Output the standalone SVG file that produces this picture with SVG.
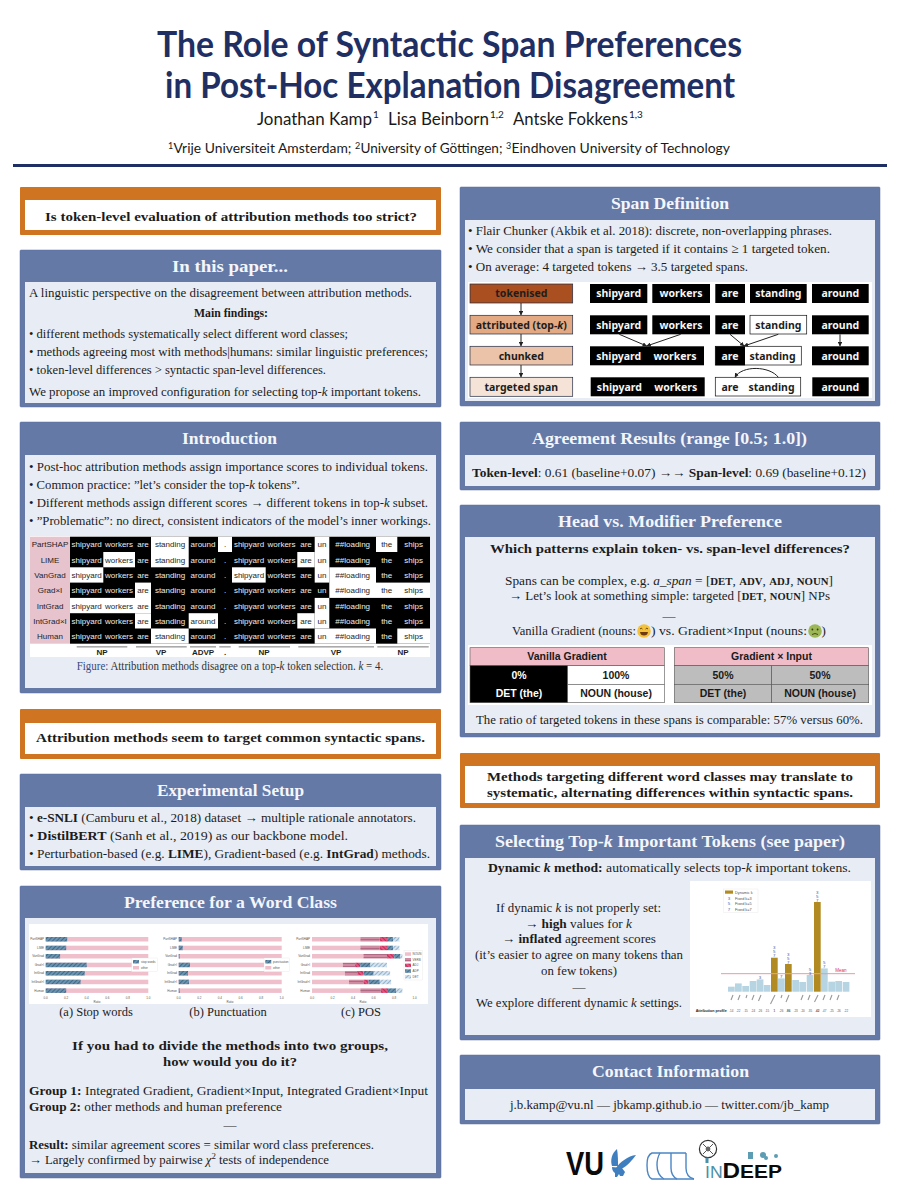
<svg xmlns="http://www.w3.org/2000/svg" width="900" height="1200" viewBox="0 0 900 1200">
<style>
text{font-family:"Liberation Serif","Times New Roman",serif;fill:#1c1c1c}
.h{font-family:Lato,"Liberation Sans",sans-serif;fill:#1f2f63}
.a{font-family:Lato,"Liberation Sans",sans-serif;fill:#1a1a1a}
.p{fill:#6479a6;stroke:#5b6f9c;stroke-width:.5}
.o{fill:#cf7522}
.i{fill:#e8ecf4}
.w{fill:#fff}
.t{font-size:17px;font-weight:700;fill:#f4f6fb}
.b{font-size:13px}
.bb{font-weight:700}
.s,.s text{font-family:"Liberation Sans",Arial,sans-serif}
.l{font-family:"Liberation Sans",Arial,sans-serif;font-size:8px;text-anchor:middle;fill:#1e1e1e}
.l.tw{fill:#ececec}
.c,.c text{font-family:"Liberation Sans",Arial,sans-serif;font-size:3px;fill:#555}
.e{text-anchor:end}
.m{text-anchor:middle}
.n{font-family:"Noto Sans","Liberation Sans",sans-serif;font-weight:700;font-size:10.5px;text-anchor:middle;fill:#f6f6f6}
.n.nd{fill:#1d1d1d}
.g{font-family:"Liberation Sans",Arial,sans-serif;font-weight:700;font-size:10.5px;text-anchor:middle;fill:#1a1a1a}
.g.gw{fill:#fff}
.blk{fill:#000}
.nb{stroke:#1f2a44;stroke-width:.7}
.pk{fill:#efbfcc}
.lb{fill:#b6d4e2}
.gd{fill:#b28a22}
.dg text,.dg{font-family:"Liberation Sans",Arial,sans-serif;font-size:4.4px;fill:#3b5bb5;text-anchor:middle}
.tk{stroke:#999;stroke-width:1.1}
.lg{fill:#fff;stroke:#ddd;stroke-width:.3}
</style>
<defs>
<pattern id="hb" width="3" height="3" patternUnits="userSpaceOnUse" patternTransform="rotate(45)"><rect width="3" height="3" fill="#6b93af"/><rect width="1" height="3" fill="#3f6a87"/></pattern>
<pattern id="hv" width="3" height="3" patternUnits="userSpaceOnUse" patternTransform="rotate(90)"><rect width="3" height="3" fill="#cf8ba2"/><rect width="1" height="3" fill="#b26a84"/></pattern>
<pattern id="ha" width="3" height="3" patternUnits="userSpaceOnUse" patternTransform="rotate(-45)"><rect width="3" height="3" fill="#e0567e"/><rect width="1" height="3" fill="#c42c5a"/></pattern>
<pattern id="hd" width="3" height="3" patternUnits="userSpaceOnUse" patternTransform="rotate(45)"><rect width="3" height="3" fill="#d5e3ef"/><rect width="1" height="3" fill="#90b2cd"/></pattern>
<marker id="ar" viewBox="0 0 6 6" refX="5.5" refY="3" markerWidth="4.5" markerHeight="4.5" orient="auto"><path d="M0 0L6 3L0 6z" fill="#222"/></marker>
</defs>
<rect width="900" height="1200" fill="#fff"/>

<g id="header">
<text class="h" x="157" y="57" font-size="36" font-weight="700" textLength="585" lengthAdjust="spacingAndGlyphs">The Role of Syntactic Span Preferences</text>
<text class="h" x="165" y="98" font-size="36" font-weight="700" textLength="570" lengthAdjust="spacingAndGlyphs">in Post-Hoc Explanation Disagreement</text>
<text class="a" x="257" y="125" font-size="18" textLength="115" lengthAdjust="spacingAndGlyphs">Jonathan Kamp</text><text class="a" x="373" y="118" font-size="10">1</text>
<text class="a" x="388" y="125" font-size="18" textLength="101" lengthAdjust="spacingAndGlyphs">Lisa Beinborn</text><text class="a" x="490" y="118" font-size="10">1,2</text>
<text class="a" x="513" y="125" font-size="18" textLength="115" lengthAdjust="spacingAndGlyphs">Antske Fokkens</text><text class="a" x="629" y="118" font-size="10">1,3</text>
<text class="a" x="168" y="149" font-size="9">1</text><text class="a" x="173.5" y="153" font-size="14" textLength="178" lengthAdjust="spacingAndGlyphs">Vrije Universiteit Amsterdam;</text>
<text class="a" x="355" y="149" font-size="9">2</text><text class="a" x="360.5" y="153" font-size="14" textLength="142" lengthAdjust="spacingAndGlyphs">University of Göttingen;</text>
<text class="a" x="506" y="149" font-size="9">3</text><text class="a" x="511.5" y="153" font-size="14" textLength="218.5" lengthAdjust="spacingAndGlyphs">Eindhoven University of Technology</text>
<rect x="13" y="164" width="874" height="3" fill="#1f2f63"/>
</g>

<g id="q1">
<rect class="o" x="20" y="187" width="421" height="48" rx="1"/>
<rect class="w" x="25" y="200" width="411" height="30"/>
<text class="b bb" x="45" y="221" textLength="372" lengthAdjust="spacingAndGlyphs">Is token-level evaluation of attribution methods too strict?</text>
</g>

<g id="in-this-paper">
<rect class="p" x="20" y="250" width="421" height="157" rx="1"/>
<rect class="i" x="25" y="282" width="411" height="121"/>
<text class="t" x="172" y="272" textLength="116" lengthAdjust="spacingAndGlyphs">In this paper...</text>
<text class="b" x="29" y="297" textLength="383" lengthAdjust="spacingAndGlyphs">A linguistic perspective on the disagreement between attribution methods.</text>
<text class="b bb" x="194" y="317" textLength="74" lengthAdjust="spacingAndGlyphs">Main findings:</text>
<text class="b" x="29" y="338" textLength="319" lengthAdjust="spacingAndGlyphs">• different methods systematically select different word classes;</text>
<text class="b" x="29" y="356" textLength="399" lengthAdjust="spacingAndGlyphs">• methods agreeing most with methods|humans: similar linguistic preferences;</text>
<text class="b" x="29" y="374" textLength="297" lengthAdjust="spacingAndGlyphs">• token-level differences &gt; syntactic span-level differences.</text>
<text class="b" x="29" y="396" textLength="392" lengthAdjust="spacingAndGlyphs">We propose an improved configuration for selecting top-<tspan font-style="italic">k</tspan> important tokens.</text>
</g>

<g id="introduction">
<rect class="p" x="20" y="422" width="421" height="271" rx="1"/>
<rect class="i" x="25" y="455" width="411" height="233"/>
<text class="t" x="182" y="444" textLength="95" lengthAdjust="spacingAndGlyphs">Introduction</text>
<text class="b" x="29" y="471" textLength="399" lengthAdjust="spacingAndGlyphs">• Post-hoc attribution methods assign importance scores to individual tokens.</text>
<text class="b" x="29" y="489" textLength="271" lengthAdjust="spacingAndGlyphs">• Common practice: ”let’s consider the top-<tspan font-style="italic">k</tspan> tokens”.</text>
<text class="b" x="29" y="507" textLength="399" lengthAdjust="spacingAndGlyphs">• Different methods assign different scores → different tokens in top-<tspan font-style="italic">k</tspan> subset.</text>
<text class="b" x="29" y="525" textLength="402" lengthAdjust="spacingAndGlyphs">• ”Problematic”: no direct, consistent indicators of the model’s inner workings.</text>
<rect class="w" x="30" y="536" width="400" height="121"/>
<rect x="30" y="536.7" width="40" height="107" fill="#e7c3cd"/>
<rect class="blk" x="70" y="536.7" width="360" height="107"/>
<g class="w">
<rect x="151" y="536.7" width="37.7" height="30.6"/><rect x="218" y="536.7" width="14" height="15.3"/><rect x="314.7" y="536.7" width="14.6" height="45.9"/><rect x="376" y="536.7" width="21.3" height="15.3"/>
<rect x="103.3" y="552" width="31.7" height="15.3"/><rect x="297.3" y="552" width="17.4" height="15.3"/>
<rect x="70" y="567.3" width="33.3" height="15.3"/><rect x="232" y="567.3" width="33.7" height="15.3"/><rect x="329.3" y="567.3" width="46.7" height="30.6"/><rect x="135" y="582.6" width="16" height="30.6"/><rect x="376" y="582.6" width="54" height="15.3"/>
<rect x="70" y="597.9" width="65" height="15.3"/><rect x="314.7" y="597.9" width="14.6" height="30.6"/>
<rect x="135" y="613.2" width="16" height="15.3"/><rect x="188.7" y="613.2" width="29.3" height="15.3"/><rect x="297.3" y="613.2" width="17.4" height="15.3"/>
<rect x="151" y="628.5" width="37.7" height="15.2"/><rect x="314.7" y="628.5" width="61.3" height="15.2"/><rect x="397.3" y="628.5" width="32.7" height="15.2"/>
</g>
<g>
<text class="l" x="50" y="547.3">PartSHAP</text><text class="l tw" x="86.7" y="547.3">shipyard</text><text class="l tw" x="119" y="547.3">workers</text><text class="l tw" x="143" y="547.3">are</text><text class="l" x="170" y="547.3">standing</text><text class="l tw" x="203" y="547.3">around</text><text class="l" x="225" y="547.3">.</text><text class="l tw" x="249" y="547.3">shipyard</text><text class="l tw" x="281.5" y="547.3">workers</text><text class="l tw" x="306" y="547.3">are</text><text class="l" x="322" y="547.3">un</text><text class="l tw" x="352.7" y="547.3">##loading</text><text class="l" x="386.7" y="547.3">the</text><text class="l tw" x="413.7" y="547.3">ships</text>
<text class="l" x="50" y="562.6">LIME</text><text class="l tw" x="86.7" y="562.6">shipyard</text><text class="l" x="119" y="562.6">workers</text><text class="l tw" x="143" y="562.6">are</text><text class="l" x="170" y="562.6">standing</text><text class="l tw" x="203" y="562.6">around</text><text class="l tw" x="225" y="562.6">.</text><text class="l tw" x="249" y="562.6">shipyard</text><text class="l tw" x="281.5" y="562.6">workers</text><text class="l" x="306" y="562.6">are</text><text class="l" x="322" y="562.6">un</text><text class="l tw" x="352.7" y="562.6">##loading</text><text class="l tw" x="386.7" y="562.6">the</text><text class="l tw" x="413.7" y="562.6">ships</text>
<text class="l" x="50" y="577.9">VanGrad</text><text class="l" x="86.7" y="577.9">shipyard</text><text class="l tw" x="119" y="577.9">workers</text><text class="l tw" x="143" y="577.9">are</text><text class="l tw" x="170" y="577.9">standing</text><text class="l tw" x="203" y="577.9">around</text><text class="l tw" x="225" y="577.9">.</text><text class="l" x="249" y="577.9">shipyard</text><text class="l tw" x="281.5" y="577.9">workers</text><text class="l tw" x="306" y="577.9">are</text><text class="l" x="322" y="577.9">un</text><text class="l" x="352.7" y="577.9">##loading</text><text class="l tw" x="386.7" y="577.9">the</text><text class="l tw" x="413.7" y="577.9">ships</text>
<text class="l" x="50" y="593.2">Grad×I</text><text class="l tw" x="86.7" y="593.2">shipyard</text><text class="l tw" x="119" y="593.2">workers</text><text class="l" x="143" y="593.2">are</text><text class="l tw" x="170" y="593.2">standing</text><text class="l tw" x="203" y="593.2">around</text><text class="l tw" x="225" y="593.2">.</text><text class="l tw" x="249" y="593.2">shipyard</text><text class="l tw" x="281.5" y="593.2">workers</text><text class="l tw" x="306" y="593.2">are</text><text class="l tw" x="322" y="593.2">un</text><text class="l" x="352.7" y="593.2">##loading</text><text class="l" x="386.7" y="593.2">the</text><text class="l" x="413.7" y="593.2">ships</text>
<text class="l" x="50" y="608.5">IntGrad</text><text class="l" x="86.7" y="608.5">shipyard</text><text class="l" x="119" y="608.5">workers</text><text class="l" x="143" y="608.5">are</text><text class="l tw" x="170" y="608.5">standing</text><text class="l tw" x="203" y="608.5">around</text><text class="l tw" x="225" y="608.5">.</text><text class="l tw" x="249" y="608.5">shipyard</text><text class="l tw" x="281.5" y="608.5">workers</text><text class="l tw" x="306" y="608.5">are</text><text class="l" x="322" y="608.5">un</text><text class="l tw" x="352.7" y="608.5">##loading</text><text class="l tw" x="386.7" y="608.5">the</text><text class="l tw" x="413.7" y="608.5">ships</text>
<text class="l" x="50" y="623.8">IntGrad×I</text><text class="l tw" x="86.7" y="623.8">shipyard</text><text class="l tw" x="119" y="623.8">workers</text><text class="l" x="143" y="623.8">are</text><text class="l tw" x="170" y="623.8">standing</text><text class="l" x="203" y="623.8">around</text><text class="l tw" x="225" y="623.8">.</text><text class="l tw" x="249" y="623.8">shipyard</text><text class="l tw" x="281.5" y="623.8">workers</text><text class="l" x="306" y="623.8">are</text><text class="l" x="322" y="623.8">un</text><text class="l tw" x="352.7" y="623.8">##loading</text><text class="l tw" x="386.7" y="623.8">the</text><text class="l tw" x="413.7" y="623.8">ships</text>
<text class="l" x="50" y="639.1">Human</text><text class="l tw" x="86.7" y="639.1">shipyard</text><text class="l tw" x="119" y="639.1">workers</text><text class="l tw" x="143" y="639.1">are</text><text class="l" x="170" y="639.1">standing</text><text class="l tw" x="203" y="639.1">around</text><text class="l tw" x="225" y="639.1">.</text><text class="l tw" x="249" y="639.1">shipyard</text><text class="l tw" x="281.5" y="639.1">workers</text><text class="l tw" x="306" y="639.1">are</text><text class="l" x="322" y="639.1">un</text><text class="l" x="352.7" y="639.1">##loading</text><text class="l tw" x="386.7" y="639.1">the</text><text class="l" x="413.7" y="639.1">ships</text>
</g>
<g fill="#aaa"><rect x="76.7" y="646" width="50.6" height="1.6"/><rect x="136" y="646" width="50.7" height="1.6"/><rect x="190" y="646" width="26" height="1.6"/><rect x="219.3" y="646" width="11.4" height="1.6"/><rect x="238.7" y="646" width="51.3" height="1.6"/><rect x="298.3" y="646" width="75.7" height="1.6"/><rect x="377.3" y="646" width="51.4" height="1.6"/></g>
<g font-weight="700"><text class="l" x="102" y="655.2">NP</text><text class="l" x="161" y="655.2">VP</text><text class="l" x="203" y="655.2">ADVP</text><text class="l" x="225" y="655.2">.</text><text class="l" x="264" y="655.2">NP</text><text class="l" x="336" y="655.2">VP</text><text class="l" x="403" y="655.2">NP</text></g>
<text x="76.7" y="669.5" font-size="11.5" textLength="306.5" lengthAdjust="spacingAndGlyphs"><tspan fill="#3a4a80">Figure:</tspan> <tspan fill="#333">Attribution methods disagree on a top-<tspan font-style="italic">k</tspan> token selection. <tspan font-style="italic">k</tspan> = 4.</tspan></text>
</g>

<g id="q2">
<rect class="o" x="20" y="709" width="421" height="50" rx="1"/>
<rect class="w" x="25" y="723" width="411" height="31"/>
<text class="b bb" x="36" y="742" textLength="389" lengthAdjust="spacingAndGlyphs">Attribution methods seem to target common syntactic spans.</text>
</g>

<g id="experimental-setup">
<rect class="p" x="20" y="774" width="421" height="96" rx="1"/>
<rect class="i" x="25" y="807" width="411" height="59"/>
<text class="t" x="157" y="796" textLength="147" lengthAdjust="spacingAndGlyphs">Experimental Setup</text>
<text class="b" x="29" y="822" textLength="387" lengthAdjust="spacingAndGlyphs">• <tspan class="bb">e-SNLI</tspan> (Camburu et al., 2018) dataset → multiple rationale annotators.</text>
<text class="b" x="29" y="840" textLength="319" lengthAdjust="spacingAndGlyphs">• <tspan class="bb">DistilBERT</tspan> (Sanh et al., 2019) as our backbone model.</text>
<text class="b" x="29" y="858" textLength="401" lengthAdjust="spacingAndGlyphs">• Perturbation-based (e.g. <tspan class="bb">LIME</tspan>), Gradient-based (e.g. <tspan class="bb">IntGrad</tspan>) methods.</text>
</g>

<g id="word-class">
<rect class="p" x="20" y="886" width="421" height="292" rx="1"/>
<rect class="i" x="25" y="918" width="411" height="255"/>
<text class="t" x="124" y="908" textLength="213" lengthAdjust="spacingAndGlyphs">Preference for a Word Class</text>
<rect class="w" x="29" y="924" width="399" height="80"/>
<g id="chart-a">
<g class="pk"><rect x="45.7" y="937" width="102.6" height="4.5"/><rect x="45.7" y="945.7" width="102.6" height="4.5"/><rect x="45.7" y="954" width="102.6" height="4.5"/><rect x="45.7" y="962.7" width="102.6" height="4.5"/><rect x="45.7" y="971" width="102.6" height="4.5"/><rect x="45.7" y="979.7" width="102.6" height="4.5"/><rect x="45.7" y="988.4" width="102.6" height="4.5"/></g>
<g fill="url(#hb)"><rect x="45.7" y="937" width="21.5" height="4.5"/><rect x="45.7" y="945.7" width="20.5" height="4.5"/><rect x="45.7" y="954" width="14.4" height="4.5"/><rect x="45.7" y="962.7" width="41" height="4.5"/><rect x="45.7" y="971" width="39" height="4.5"/><rect x="45.7" y="979.7" width="34.9" height="4.5"/><rect x="45.7" y="988.4" width="20.5" height="4.5"/></g>
<g class="c e"><text x="44" y="940.3">PartSHAP</text><text x="44" y="949">LIME</text><text x="44" y="957.3">VanGrad</text><text x="44" y="966">Grad×I</text><text x="44" y="974.3">IntGrad</text><text x="44" y="983">IntGrad×I</text><text x="44" y="991.7">Human</text></g>
<g class="c m"><text x="45.7" y="998.5">0.0</text><text x="66.2" y="998.5">0.2</text><text x="86.7" y="998.5">0.4</text><text x="107.3" y="998.5">0.6</text><text x="127.8" y="998.5">0.8</text><text x="148.3" y="998.5">1.0</text><text x="97" y="1002.5">Ratio</text></g>
<rect class="lg" x="131.7" y="958" width="25.6" height="13.7"/>
<rect x="133" y="960" width="6" height="3.5" fill="url(#hb)"/><rect x="133" y="966" width="6" height="3.5" class="pk"/>
<text class="c" x="141" y="963">stop words</text><text class="c" x="141" y="969">other</text>
</g>
<g id="chart-b">
<g class="pk"><rect x="178.7" y="937" width="103" height="4.5"/><rect x="178.7" y="945.7" width="103" height="4.5"/><rect x="178.7" y="954" width="103" height="4.5"/><rect x="178.7" y="962.7" width="103" height="4.5"/><rect x="178.7" y="971" width="103" height="4.5"/><rect x="178.7" y="979.7" width="103" height="4.5"/><rect x="178.7" y="988.4" width="103" height="4.5"/></g>
<g fill="url(#hb)"><rect x="178.7" y="937" width="3" height="4.5"/><rect x="178.7" y="945.7" width="4" height="4.5"/><rect x="178.7" y="954" width="1" height="4.5"/><rect x="178.7" y="962.7" width="11.3" height="4.5"/><rect x="178.7" y="971" width="9.3" height="4.5"/><rect x="178.7" y="979.7" width="10.3" height="4.5"/><rect x="178.7" y="988.4" width="1" height="4.5"/></g>
<g class="c e"><text x="177" y="940.3">PartSHAP</text><text x="177" y="949">LIME</text><text x="177" y="957.3">VanGrad</text><text x="177" y="966">Grad×I</text><text x="177" y="974.3">IntGrad</text><text x="177" y="983">IntGrad×I</text><text x="177" y="991.7">Human</text></g>
<g class="c m"><text x="178.7" y="998.5">0.0</text><text x="199.3" y="998.5">0.2</text><text x="219.9" y="998.5">0.4</text><text x="240.5" y="998.5">0.6</text><text x="261.1" y="998.5">0.8</text><text x="281.7" y="998.5">1.0</text><text x="230" y="1002.5">Ratio</text></g>
<rect class="lg" x="264" y="958" width="25.3" height="13.7"/>
<rect x="265.3" y="960" width="6" height="3.5" fill="url(#hb)"/><rect x="265.3" y="966" width="6" height="3.5" class="pk"/>
<text class="c" x="273" y="963">punctuation</text><text class="c" x="273" y="969">other</text>
</g>
<g id="chart-c">
<g class="pk"><rect x="312" y="937" width="48.3" height="4.5"/><rect x="312" y="945.7" width="48.3" height="4.5"/><rect x="312" y="954" width="51.4" height="4.5"/><rect x="312" y="962.7" width="30.8" height="4.5"/><rect x="312" y="971" width="32.9" height="4.5"/><rect x="312" y="979.7" width="37" height="4.5"/><rect x="312" y="988.4" width="48.3" height="4.5"/></g>
<g fill="url(#hv)"><rect x="360.3" y="937" width="19.5" height="4.5"/><rect x="360.3" y="945.7" width="19.5" height="4.5"/><rect x="363.4" y="954" width="23.6" height="4.5"/><rect x="342.8" y="962.7" width="12.3" height="4.5"/><rect x="344.9" y="971" width="12.3" height="4.5"/><rect x="349" y="979.7" width="14.4" height="4.5"/><rect x="360.3" y="988.4" width="20.5" height="4.5"/></g>
<g fill="url(#ha)"><rect x="379.8" y="937" width="7.2" height="4.5"/><rect x="379.8" y="945.7" width="7.2" height="4.5"/><rect x="387" y="954" width="7.2" height="4.5"/><rect x="355.1" y="962.7" width="5.1" height="4.5"/><rect x="357.2" y="971" width="6.2" height="4.5"/><rect x="363.4" y="979.7" width="5.1" height="4.5"/><rect x="380.8" y="988.4" width="7.2" height="4.5"/></g>
<g fill="url(#hb)"><rect x="387" y="937" width="6.2" height="4.5"/><rect x="387" y="945.7" width="6.2" height="4.5"/><rect x="394.2" y="954" width="6.2" height="4.5"/><rect x="360.2" y="962.7" width="10.3" height="4.5"/><rect x="363.4" y="971" width="10.3" height="4.5"/><rect x="368.5" y="979.7" width="11.3" height="4.5"/><rect x="388" y="988.4" width="8.2" height="4.5"/></g>
<g fill="url(#hd)"><rect x="393.2" y="937" width="6.2" height="4.5"/><rect x="393.2" y="945.7" width="6.2" height="4.5"/><rect x="400.4" y="954" width="2" height="4.5"/><rect x="370.5" y="962.7" width="16.4" height="4.5"/><rect x="373.7" y="971" width="16.4" height="4.5"/><rect x="379.8" y="979.7" width="11.3" height="4.5"/><rect x="396.2" y="988.4" width="6.2" height="4.5"/></g>
<g class="c e"><text x="310" y="940.3">PartSHAP</text><text x="310" y="949">LIME</text><text x="310" y="957.3">VanGrad</text><text x="310" y="966">Grad×I</text><text x="310" y="974.3">IntGrad</text><text x="310" y="983">IntGrad×I</text><text x="310" y="991.7">Human</text></g>
<g class="c m"><text x="312" y="998.5">0.0</text><text x="332.5" y="998.5">0.2</text><text x="353" y="998.5">0.4</text><text x="373.6" y="998.5">0.6</text><text x="394.2" y="998.5">0.8</text><text x="414.7" y="998.5">1.0</text><text x="363" y="1002.5">Ratio</text></g>
<rect class="lg" x="404" y="950.7" width="18.7" height="29.3"/>
<rect x="405" y="952.3" width="6" height="3.5" class="pk"/><rect x="405" y="958" width="6" height="3.5" fill="url(#hv)"/><rect x="405" y="963.6" width="6" height="3.5" fill="url(#ha)"/><rect x="405" y="969.3" width="6" height="3.5" fill="url(#hb)"/><rect x="405" y="975" width="6" height="3.5" fill="url(#hd)"/>
<text class="c" x="412.5" y="955">NOUN</text><text class="c" x="412.5" y="960.7">VERB</text><text class="c" x="412.5" y="966.3">ADJ</text><text class="c" x="412.5" y="972">ADP</text><text class="c" x="412.5" y="977.7">DET</text>
</g>
<text class="m" x="96" y="1016" font-size="12.5">(a) Stop words</text>
<text class="m" x="228" y="1016" font-size="12.5">(b) Punctuation</text>
<text class="m" x="361" y="1016" font-size="12.5">(c) POS</text>
<text class="b bb" x="72" y="1050" textLength="316" lengthAdjust="spacingAndGlyphs">If you had to divide the methods into two groups,</text>
<text class="b bb" x="163" y="1066" textLength="134" lengthAdjust="spacingAndGlyphs">how would you do it?</text>
<text class="b" x="29" y="1095" textLength="399" lengthAdjust="spacingAndGlyphs"><tspan class="bb">Group 1:</tspan> Integrated Gradient, Gradient×Input, Integrated Gradient×Input</text>
<text class="b" x="29" y="1111" textLength="253" lengthAdjust="spacingAndGlyphs"><tspan class="bb">Group 2:</tspan> other methods and human preference</text>
<text class="b m" x="230" y="1129">—</text>
<text class="b" x="29" y="1149" textLength="345" lengthAdjust="spacingAndGlyphs"><tspan class="bb">Result:</tspan> similar agreement scores = similar word class preferences.</text>
<text class="b" x="29" y="1164" textLength="300" lengthAdjust="spacingAndGlyphs">→ Largely confirmed by pairwise <tspan font-style="italic">χ</tspan><tspan dy="-5" font-size="9">2</tspan><tspan dy="5"> tests of independence</tspan></text>
</g>

<g id="span-definition">
<rect class="p" x="460" y="187" width="420" height="219" rx="1"/>
<rect class="i" x="465" y="220" width="410" height="181"/>
<text class="t" x="611" y="209" textLength="118" lengthAdjust="spacingAndGlyphs">Span Definition</text>
<text class="b" x="468" y="235" textLength="364" lengthAdjust="spacingAndGlyphs">• Flair Chunker (Akbik et al. 2018): discrete, non-overlapping phrases.</text>
<text class="b" x="468" y="253" textLength="362" lengthAdjust="spacingAndGlyphs">• We consider that a span is targeted if it contains ≥ 1 targeted token.</text>
<text class="b" x="468" y="271" textLength="280" lengthAdjust="spacingAndGlyphs">• On average: 4 targeted tokens → 3.5 targeted spans.</text>
<rect class="w" x="468" y="282" width="404" height="116"/>
<g id="node-tokenised"><rect class="nb" x="470" y="284" width="102.7" height="19" fill="#a94f20"/><text class="n nd" x="521.3" y="297.3">tokenised</text></g>
<g id="node-attributed"><rect class="nb" x="470" y="315.3" width="102.7" height="18.7" fill="#e3a983"/><text class="n nd" x="521.3" y="328.5">attributed (top-<tspan font-style="italic">k</tspan>)</text></g>
<g id="node-chunked"><rect class="nb" x="470" y="346.3" width="102.7" height="18.7" fill="#ebc3a8"/><text class="n nd" x="521.3" y="359.5">chunked</text></g>
<g id="node-targeted"><rect class="nb" x="470" y="377.3" width="102.7" height="19" fill="#f6e3d7"/><text class="n nd" x="521.3" y="390.7">targeted span</text></g>
<g id="row-tokenised">
<rect class="blk" x="590" y="284" width="57.3" height="19"/><text class="n" x="618.7" y="297.3">shipyard</text>
<rect class="blk" x="652.3" y="284" width="57.7" height="19"/><text class="n" x="681" y="297.3">workers</text>
<rect class="blk" x="715.3" y="284" width="29.7" height="19"/><text class="n" x="730" y="297.3">are</text>
<rect class="blk" x="750" y="284" width="56.7" height="19"/><text class="n" x="778.3" y="297.3">standing</text>
<rect class="blk" x="812" y="284" width="56.7" height="19"/><text class="n" x="840.3" y="297.3">around</text>
</g>
<g id="row-attributed">
<rect class="blk" x="590" y="315.3" width="57.3" height="19"/><text class="n" x="618.7" y="328.5">shipyard</text>
<rect class="blk" x="652.3" y="315.3" width="57.7" height="19"/><text class="n" x="681" y="328.5">workers</text>
<rect class="blk" x="715.3" y="315.3" width="29.7" height="19"/><text class="n" x="730" y="328.5">are</text>
<rect x="750" y="315.3" width="56.7" height="18.7" fill="#fff" stroke="#111" stroke-width=".7"/><text class="n nd" x="778.3" y="328.5">standing</text>
<rect class="blk" x="812" y="315.3" width="56.7" height="19"/><text class="n" x="840.3" y="328.5">around</text>
</g>
<g id="row-chunked">
<rect class="blk" x="590" y="346.3" width="114" height="19"/><text class="n" x="618.7" y="359.5">shipyard</text><text class="n" x="675" y="359.5">workers</text>
<rect x="715.3" y="346.3" width="86" height="18.7" fill="#fff" stroke="#111" stroke-width=".7"/><rect class="blk" x="715.3" y="346.3" width="29.7" height="19"/><text class="n" x="730" y="359.5">are</text><text class="n nd" x="772.5" y="359.5">standing</text>
<rect class="blk" x="812" y="346.3" width="56.7" height="19"/><text class="n" x="840.3" y="359.5">around</text>
</g>
<g id="row-targeted">
<rect class="blk" x="590.7" y="377.3" width="114" height="19"/><text class="n" x="619.4" y="390.7">shipyard</text><text class="n" x="675.7" y="390.7">workers</text>
<rect x="715.3" y="377.3" width="85.4" height="18.7" fill="#fff" stroke="#111" stroke-width=".7"/><text class="n nd" x="730" y="390.7">are</text><text class="n nd" x="771.5" y="390.7">standing</text>
<rect class="blk" x="812.3" y="377.3" width="56.4" height="19"/><text class="n" x="840.3" y="390.7">around</text>
</g>
</g>

<g id="agreement-results">
<rect class="p" x="460" y="422" width="420" height="68" rx="1"/>
<rect class="i" x="465" y="455" width="410" height="31"/>
<text class="t" x="532" y="444" textLength="275" lengthAdjust="spacingAndGlyphs">Agreement Results (range [0.5; 1.0])</text>
<text class="b" x="472" y="477" textLength="394" lengthAdjust="spacingAndGlyphs"><tspan class="bb">Token-level</tspan>: 0.61 (baseline+0.07) →→ <tspan class="bb">Span-level</tspan>: 0.69 (baseline+0.12)</text>
</g>

<g id="head-modifier">
<rect class="p" x="460" y="505" width="420" height="232" rx="1"/>
<rect class="i" x="465" y="537" width="410" height="196"/>
<text class="t" x="558" y="527" textLength="224" lengthAdjust="spacingAndGlyphs">Head vs. Modifier Preference</text>
<text class="b bb" x="490" y="553" textLength="360" lengthAdjust="spacingAndGlyphs">Which patterns explain token- vs. span-level differences?</text>
<text class="b" x="505" y="585" textLength="328" lengthAdjust="spacingAndGlyphs">Spans can be complex, e.g. <tspan font-style="italic">a_span</tspan> = [<tspan font-size="10.5" font-weight="700">DET</tspan>, <tspan font-size="10.5" font-weight="700">ADV</tspan>, <tspan font-size="10.5" font-weight="700">ADJ</tspan>, <tspan font-size="10.5" font-weight="700">NOUN</tspan>]</text>
<text class="b" x="509" y="600" textLength="321" lengthAdjust="spacingAndGlyphs">→ Let’s look at something simple: targeted [<tspan font-size="10.5" font-weight="700">DET</tspan>, <tspan font-size="10.5" font-weight="700">NOUN</tspan>] NPs</text>
<text class="b m" x="669" y="620">—</text>
<text class="b" x="512" y="635" textLength="124" lengthAdjust="spacingAndGlyphs">Vanilla Gradient (nouns:</text>
<g id="emoji-happy"><circle cx="644" cy="631" r="6.8" fill="#f3c13a"/><path d="M640 629q1.2-1.6 2.4 0M645.6 629q1.2-1.6 2.4 0" fill="none" stroke="#5a3a10" stroke-width=".9"/><path d="M640 632h8q-.5 3.6-4 3.6t-4-3.6z" fill="#6d3a12"/></g>
<text class="b" x="651" y="635" textLength="156" lengthAdjust="spacingAndGlyphs">) vs. Gradient×Input (nouns:</text>
<g id="emoji-sick"><circle cx="815" cy="631" r="6.8" fill="#9cb755"/><circle cx="812.4" cy="629.5" r=".9" fill="#3d3a14"/><circle cx="817.6" cy="629.5" r=".9" fill="#3d3a14"/><path d="M812 634.5q3-2 6 0" fill="none" stroke="#3d3a14" stroke-width=".9"/></g>
<text class="b" x="821.5" y="635">)</text>
<rect class="w" x="468" y="645" width="404" height="60"/>
<g id="table-vanilla" stroke="#555" stroke-width=".6">
<rect x="470" y="647.7" width="194.3" height="18" fill="#efbcc8"/>
<rect x="470" y="665.7" width="97.7" height="37" fill="#000"/>
<rect x="567.7" y="665.7" width="96.6" height="18.6" fill="#fff"/>
<rect x="567.7" y="684.3" width="96.6" height="18.4" fill="#fff"/>
</g>
<g id="table-gradinput" stroke="#555" stroke-width=".6">
<rect x="674.3" y="647.7" width="194.4" height="18" fill="#efbcc8"/>
<rect x="674.3" y="665.7" width="97.4" height="18.6" fill="#bdbdbd"/>
<rect x="771.7" y="665.7" width="97" height="18.6" fill="#bdbdbd"/>
<rect x="674.3" y="684.3" width="97.4" height="18.4" fill="#bdbdbd"/>
<rect x="771.7" y="684.3" width="97" height="18.4" fill="#bdbdbd"/>
</g>
<text class="g" x="567" y="660.3">Vanilla Gradient</text>
<text class="g gw" x="519" y="678.5">0%</text><text class="g" x="616" y="678.5">100%</text>
<text class="g gw" x="519" y="697">DET (the)</text><text class="g" x="616" y="697">NOUN (house)</text>
<text class="g" x="771.5" y="660.3">Gradient × Input</text>
<text class="g" x="723" y="678.5">50%</text><text class="g" x="820" y="678.5">50%</text>
<text class="g" x="723" y="697">DET (the)</text><text class="g" x="820" y="697">NOUN (house)</text>
<text class="b" x="476" y="724" textLength="387" lengthAdjust="spacingAndGlyphs">The ratio of targeted tokens in these spans is comparable: 57% versus 60%.</text>
</g>

<g id="q3">
<rect class="o" x="460" y="753" width="420" height="55" rx="1"/>
<rect class="w" x="465" y="766" width="410" height="37"/>
<text class="b bb" x="487" y="781" textLength="366" lengthAdjust="spacingAndGlyphs">Methods targeting different word classes may translate to</text>
<text class="b bb" x="487" y="797" textLength="366" lengthAdjust="spacingAndGlyphs">systematic, alternating differences within syntactic spans.</text>
</g>

<g id="selecting">
<rect class="p" x="460" y="825" width="420" height="215" rx="1"/>
<rect class="i" x="465" y="858" width="410" height="177"/>
<text class="t" x="495" y="847" textLength="350" lengthAdjust="spacingAndGlyphs">Selecting Top-<tspan font-style="italic">k</tspan> Important Tokens (see paper)</text>
<text class="b" x="488" y="872" textLength="363" lengthAdjust="spacingAndGlyphs"><tspan class="bb">Dynamic <tspan font-style="italic">k</tspan> method:</tspan> automatically selects top-<tspan font-style="italic">k</tspan> important tokens.</text>
<text class="b" x="496" y="912" textLength="165" lengthAdjust="spacingAndGlyphs">If dynamic <tspan font-style="italic">k</tspan> is not properly set:</text>
<text class="b" x="525" y="927.5" textLength="107" lengthAdjust="spacingAndGlyphs">→ <tspan class="bb">high</tspan> values for <tspan font-style="italic">k</tspan></text>
<text class="b" x="502" y="943" textLength="154" lengthAdjust="spacingAndGlyphs">→ <tspan class="bb">inflated</tspan> agreement scores</text>
<text class="b" x="475" y="959" textLength="208" lengthAdjust="spacingAndGlyphs">(it’s easier to agree on many tokens than</text>
<text class="b" x="541" y="975" textLength="76" lengthAdjust="spacingAndGlyphs">on few tokens)</text>
<text class="b m" x="579" y="991">—</text>
<text class="b" x="476" y="1007" textLength="206" lengthAdjust="spacingAndGlyphs">We explore different dynamic <tspan font-style="italic">k</tspan> settings.</text>
<rect class="w" x="690" y="881" width="181" height="136"/>
<g id="bar-chart">
<g class="lb"><rect x="728" y="986.7" width="6.7" height="5"/><rect x="735" y="983.4" width="6.7" height="8.3"/><rect x="742.3" y="986" width="6.7" height="5.7"/><rect x="749.7" y="981" width="6.7" height="10.7"/><rect x="756.7" y="979.4" width="6.7" height="12.3"/><rect x="763.7" y="985" width="6.7" height="6.7"/><rect x="778" y="978.4" width="6.7" height="13.3"/><rect x="792.3" y="980" width="6.7" height="11.7"/><rect x="799.3" y="982" width="6.7" height="9.7"/><rect x="806.7" y="975" width="6.7" height="16.7"/><rect x="821" y="968.4" width="6.7" height="23.3"/><rect x="828.3" y="981.7" width="6.7" height="10"/><rect x="835.3" y="981" width="6.7" height="10.7"/><rect x="842.7" y="982" width="6.7" height="9.7"/></g>
<g class="gd"><rect x="771" y="957.7" width="6.7" height="34"/><rect x="785" y="964" width="6.7" height="27.7"/><rect x="814" y="902" width="6.7" height="89.7"/></g>
<rect x="721" y="973" width="134" height="1.2" fill="#eb9aa8" opacity=".85"/>
<text x="841" y="972" font-size="4.5" class="s m" style="fill:#d8324a">Mean</text>
<g class="dg"><text x="774.3" y="949">3</text><text x="774.3" y="953">5</text><text x="774.3" y="957">7</text><text x="788.3" y="955.5">3</text><text x="788.3" y="959.5">5</text><text x="788.3" y="963.5">7</text><text x="817.3" y="893.5">3</text><text x="817.3" y="897.5">5</text><text x="817.3" y="901.5">7</text><text x="824.3" y="963.5">5</text><text x="824.3" y="967.5">7</text><text x="810" y="970.5">5</text><text x="810" y="974.5">3</text><text x="760" y="978.5">3</text><text x="781.3" y="977.5">7</text></g>
<rect class="lg" x="723.3" y="889" width="34.7" height="23.7"/>
<rect class="gd" x="725" y="890.5" width="8" height="3.2"/>
<g class="c"><text x="735" y="893.6" style="font-size:3.8px">Dynamic k</text><text x="735" y="899.5" style="font-size:3.8px">Fixed k=3</text><text x="735" y="905" style="font-size:3.8px">Fixed k=5</text><text x="735" y="910.5" style="font-size:3.8px">Fixed k=7</text></g>
<g class="dg"><text x="729" y="899.5">3</text><text x="729" y="905">5</text><text x="729" y="910.5">7</text></g>
<path class="tk" d="M733 995l-2 5M740 995l-2 5M747 995l-1 3M754 995l-2 5M761 995l-2.5 6M775 995l-4.5 9M782 995l-1 3M789 995l-3 7M803 995l-2 5M810 995l-2 5M818 995l-3.5 7M825 995l-2 5M832 995l-2 5M839 995l-2 5"/>
<text class="s" x="695.7" y="1012" font-size="3.6" font-weight="700" textLength="31" lengthAdjust="spacingAndGlyphs">Attribution profile</text>
<g class="c m"><text x="731.3" y="1012">.14</text><text x="738.3" y="1012">.22</text><text x="745.7" y="1012">.15</text><text x="753" y="1012">.24</text><text x="760" y="1012">.26</text><text x="767" y="1012">.15</text><text x="774.3" y="1012" font-weight="700">1</text><text x="781.3" y="1012">.26</text><text x="788.3" y="1012" font-weight="700">.86</text><text x="795.7" y="1012">.23</text><text x="802.7" y="1012">.20</text><text x="810" y="1012">.35</text><text x="817.3" y="1012" font-weight="700">.42</text><text x="824.3" y="1012">.47</text><text x="831.7" y="1012">.25</text><text x="838.7" y="1012">.26</text><text x="846" y="1012">.22</text></g>
</g>
</g>

<g id="contact">
<rect class="p" x="460" y="1055" width="420" height="69" rx="1"/>
<rect class="i" x="465" y="1089" width="410" height="31"/>
<text class="t" x="592" y="1077" textLength="157" lengthAdjust="spacingAndGlyphs">Contact Information</text>
<text class="b" x="510" y="1109" textLength="319" lengthAdjust="spacingAndGlyphs">j.b.kamp@vu.nl — jbkamp.github.io — twitter.com/jb_kamp</text>
</g>

<g id="connectors" fill="none" stroke="#222" stroke-width="1" marker-end="url(#ar)">
<path d="M521 303V315"/><path d="M521 334V346"/><path d="M521 365V377"/>
<path d="M619.3 334.3L646.7 346"/><path d="M680.7 334.3L646.7 346"/>
<path d="M730 334.3L744 346"/><path d="M778.3 334.3L744 346"/>
<path d="M840 334.3V346"/>
<path d="M778.3 377.3C770 366 742 365 735 377.3"/>
</g>

<g id="logos">
<text x="566" y="1175" style="font-family:'Liberation Sans',Arial,sans-serif;font-weight:700;fill:#0a0a0a" font-size="33" textLength="38" lengthAdjust="spacingAndGlyphs">VU</text>
<g fill="#3f7fc0">
<path d="M612 1166C610 1160 612 1153 617 1149C618 1155 618 1160 618 1166Z"/>
<path d="M616 1168C620 1162 628 1156 636 1155C632 1160 628 1166 621 1169Z"/>
<path d="M612 1167L622 1168L625 1172L623 1176H620L619 1174L617 1177H615L615 1173Q612 1171 612 1167Z"/>
</g>
<g fill="none" stroke="#4a86c5" stroke-width="1.4">
<path d="M686 1153H652Q647 1155 647 1165Q647 1177 652 1179H694"/>
<path d="M660 1153Q657 1158 657 1165Q657 1175 664 1179"/>
<path d="M671 1153V1168Q671 1176 677 1179"/>
<path d="M686 1153V1168Q686 1177 694 1179"/>
</g>
<circle cx="708" cy="1149" r="8.6" fill="#fff" stroke="#333" stroke-width="1.2"/>
<path d="M703 1144l10 10M713 1144l-10 10" stroke="#555" stroke-width="1"/><circle cx="708" cy="1149" r="2.4" fill="#666"/>
<path d="M707 1157.6V1163" stroke="#4a90a8" stroke-width="3"/>
<text x="705" y="1178" style="font-family:'Liberation Sans',Arial,sans-serif;fill:#0a0a0a;font-weight:400" font-size="22" textLength="77" lengthAdjust="spacingAndGlyphs"><tspan style="fill:#4a90a8" font-size="16">IN</tspan><tspan font-weight="700" font-size="22">D</tspan><tspan font-weight="700" font-size="19">EEP</tspan></text>
<g fill="#5d9db3"><rect x="748" y="1152" width="5" height="7"/><circle cx="763" cy="1155" r="3"/><circle cx="766" cy="1158" r="2"/><circle cx="776" cy="1156" r="2"/></g>
</g>
</svg>
